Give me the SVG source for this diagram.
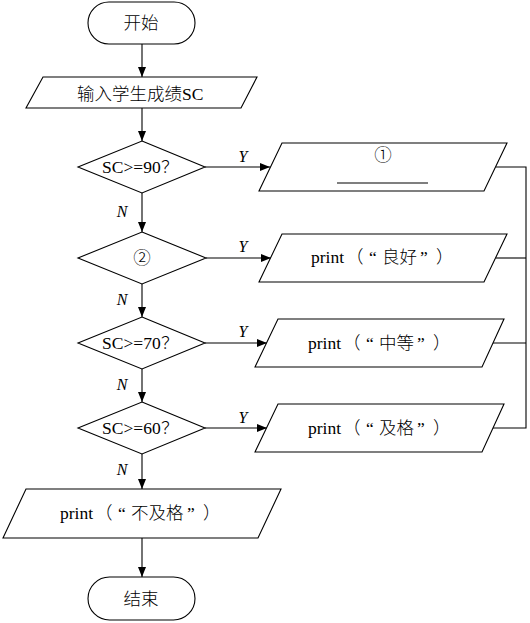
<svg xmlns="http://www.w3.org/2000/svg" width="530" height="623" viewBox="0 0 530 623">
<style>
.s{fill:#fff;stroke:#000;stroke-width:1.1}
.c{fill:none;stroke:#000;stroke-width:1.1}
text{font-family:"Liberation Serif","Times New Roman","Noto Sans CJK SC",serif;font-size:17.5px;fill:#000}
.m{text-anchor:middle}
.z{font-family:"Noto Sans CJK SC","Noto Sans CJK JP",sans-serif;font-weight:300}
.l{font-style:italic;font-size:16px;text-anchor:middle}
</style>
<defs>
<marker id="a" viewBox="0 0 10 8" refX="10" refY="4" markerWidth="10" markerHeight="8" markerUnits="userSpaceOnUse" orient="auto">
<path d="M0,0L10,4L0,8z" fill="#000"/>
</marker>
</defs>
<g id="connectors">
<line class="c" x1="142" y1="44" x2="142" y2="77" marker-end="url(#a)"/>
<line class="c" x1="142" y1="108" x2="142" y2="141" marker-end="url(#a)"/>
<line class="c" x1="142" y1="193" x2="142" y2="232" marker-end="url(#a)"/>
<line class="c" x1="142" y1="284" x2="142" y2="317" marker-end="url(#a)"/>
<line class="c" x1="142" y1="369" x2="142" y2="402" marker-end="url(#a)"/>
<line class="c" x1="142" y1="454" x2="142" y2="489" marker-end="url(#a)"/>
<line class="c" x1="142" y1="538" x2="142" y2="577" marker-end="url(#a)"/>
<line class="c" x1="205" y1="167" x2="270" y2="167" marker-end="url(#a)"/>
<line class="c" x1="206" y1="258" x2="271" y2="258" marker-end="url(#a)"/>
<line class="c" x1="205" y1="343" x2="267" y2="343" marker-end="url(#a)"/>
<line class="c" x1="205" y1="428" x2="267" y2="428" marker-end="url(#a)"/>
<polyline class="c" points="496,167 526,167 526,428 493,428"/>
<line class="c" x1="496" y1="258" x2="526" y2="258"/>
<line class="c" x1="493" y1="343" x2="526" y2="343"/>
<text class="l" x="122" y="217">N</text>
<text class="l" x="122" y="305">N</text>
<text class="l" x="122" y="390">N</text>
<text class="l" x="122" y="475">N</text>
<text class="l" x="243" y="162">Y</text>
<text class="l" x="243" y="252">Y</text>
<text class="l" x="243" y="337">Y</text>
<text class="l" x="243" y="423">Y</text>
</g>
<g id="start">
<rect class="s" x="88" y="2" width="107" height="42" rx="21"/>
<text class="m z" x="141" y="29">开始</text>
</g>
<g id="input">
<polygon class="s" points="43,77 257,77 241,108 26,108"/>
<text x="77" y="99.5"><tspan class="z">输入学生成绩</tspan><tspan>SC</tspan></text>
</g>
<g id="d1">
<polygon class="s" points="142,141 205,167 142,193 78,167"/>
<text x="102" y="173">SC&gt;=90<tspan class="z" x="161">？</tspan></text>
</g>
<g id="d2">
<polygon class="s" points="142,232 206,258 142,284 78,258"/>
<text class="m z" x="142" y="264" font-size="16">②</text>
</g>
<g id="d3">
<polygon class="s" points="142,317 205,343 142,369 78,343"/>
<text x="102" y="349">SC&gt;=70<tspan class="z" x="161">？</tspan></text>
</g>
<g id="d4">
<polygon class="s" points="142,402 205,428 142,454 78,428"/>
<text x="102" y="434">SC&gt;=60<tspan class="z" x="161">？</tspan></text>
</g>
<g id="o1">
<polygon class="s" points="282,143 507,143 484,191 259,191"/>
<text class="m z" x="383" y="161" font-size="15">①</text>
<line class="c" x1="337" y1="183" x2="428" y2="183"/>
</g>
<g id="o2">
<polygon class="s" points="282,234 507,234 484,282 259,282"/>
<text x="311" y="263">print<tspan class="z" x="346">（</tspan><tspan x="369">“</tspan><tspan class="z" x="382">良好</tspan><tspan x="420">”</tspan><tspan class="z" x="436">）</tspan></text>
</g>
<g id="o3">
<polygon class="s" points="278,319 504,319 482,367 255,367"/>
<text x="308" y="349">print<tspan class="z" x="343">（</tspan><tspan x="366">“</tspan><tspan class="z" x="379">中等</tspan><tspan x="417">”</tspan><tspan class="z" x="433">）</tspan></text>
</g>
<g id="o4">
<polygon class="s" points="278,404 504,404 482,452 255,452"/>
<text x="308" y="434">print<tspan class="z" x="343">（</tspan><tspan x="366">“</tspan><tspan class="z" x="379">及格</tspan><tspan x="417">”</tspan><tspan class="z" x="433">）</tspan></text>
</g>
<g id="o5">
<polygon class="s" points="26,489 281,489 258,538 3,538"/>
<text x="60" y="519">print<tspan class="z" x="95">（</tspan><tspan x="118">“</tspan><tspan class="z" x="131">不及格</tspan><tspan x="187">”</tspan><tspan class="z" x="203">）</tspan></text>
</g>
<g id="end">
<rect class="s" x="88" y="577" width="107" height="43" rx="21.5"/>
<text class="m z" x="141" y="605">结束</text>
</g>
</svg>
